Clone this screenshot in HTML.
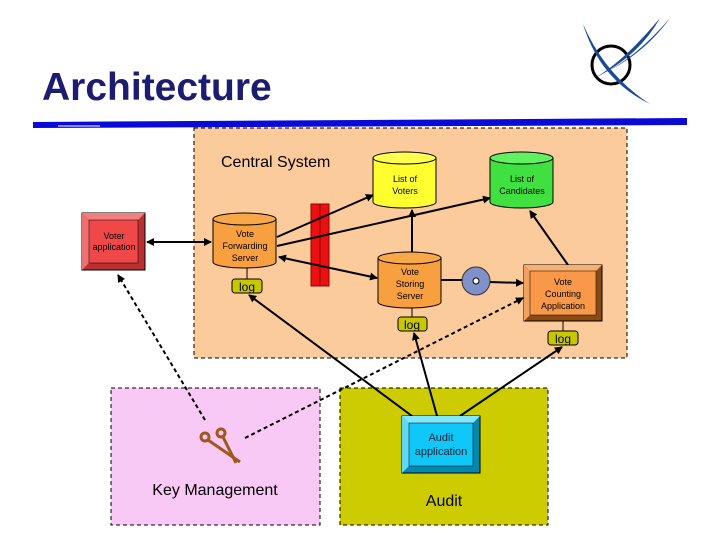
<!DOCTYPE html>
<html><head><style>
body{margin:0;background:#fff;}
svg{display:block;font-family:"Liberation Sans",sans-serif;}
</style></head><body>
<svg width="720" height="540" viewBox="0 0 720 540" xmlns="http://www.w3.org/2000/svg">
<defs>
<marker id="ah" markerWidth="8" markerHeight="8" refX="7" refY="4" orient="auto" markerUnits="userSpaceOnUse"><path d="M0,0 L8,4 L0,8 z" fill="#000"/></marker>
<marker id="as" markerWidth="8" markerHeight="8" refX="1" refY="4" orient="auto" markerUnits="userSpaceOnUse"><path d="M8,0 L0,4 L8,8 z" fill="#000"/></marker>
</defs>
<circle cx="611" cy="65" r="19" fill="none" stroke="#000" stroke-width="3"/>
<path d="M583,24 Q600,80 650,104 Q605,75 583,24z" fill="#1a4a9a"/>
<path d="M588,80 Q640,60 670,18 Q630,65 588,80z" fill="#1a4a9a"/>
<path d="M595,78 Q640,55 660,18 Q625,60 595,78z" fill="#1a4a9a"/>
<text x="42" y="100" font-size="39" font-weight="bold" fill="#1c1c70">Architecture</text>
<polygon points="33,122 687,118 687,125 33,128" fill="#0a0ad8"/>
<line x1="58" y1="126" x2="100" y2="126" stroke="#fff" stroke-width="1"/>
<rect x="194" y="128" width="433" height="230" fill="#fccb9b" stroke="#000" stroke-dasharray="4,3"/>
<text x="221" y="167" font-size="16">Central System</text>
<rect x="111" y="388" width="209" height="137" fill="#f9c9f5" stroke="#000" stroke-dasharray="4,3"/>
<rect x="340" y="388" width="208" height="137" fill="#cccc00" stroke="#000" stroke-dasharray="4,3"/>
<text x="215" y="495" font-size="16" text-anchor="middle">Key Management</text>
<text x="444" y="506" font-size="16" text-anchor="middle">Audit</text>
<rect x="311" y="204" width="18" height="82" fill="#e81010" stroke="#900"/>
<line x1="320" y1="204" x2="320" y2="286" stroke="#900"/>
<g stroke="#000" stroke-width="2" fill="none">
<line x1="147" y1="242" x2="211" y2="242" marker-end="url(#ah)" marker-start="url(#as)"/>
<line x1="277" y1="237" x2="373" y2="195" marker-end="url(#ah)"/>
<line x1="277" y1="246" x2="490" y2="198" marker-end="url(#ah)"/>
<line x1="279" y1="257" x2="377" y2="278" marker-end="url(#ah)" marker-start="url(#as)"/>
<line x1="412" y1="252" x2="412" y2="210" marker-end="url(#ah)"/>
<line x1="441" y1="280" x2="462" y2="280"/>
<line x1="489" y1="282" x2="523" y2="283" marker-end="url(#ah)"/>
<line x1="568" y1="265" x2="530" y2="211" marker-end="url(#ah)"/>
<line x1="412" y1="416" x2="249" y2="295" marker-end="url(#ah)"/>
<line x1="437" y1="416" x2="414" y2="333" marker-end="url(#ah)"/>
<line x1="460" y1="416" x2="562" y2="347" marker-end="url(#ah)"/>
<line x1="245" y1="438" x2="523" y2="298" stroke-dasharray="4,3" marker-end="url(#ah)"/>
<line x1="205" y1="420" x2="118" y2="275" stroke-dasharray="4,3" marker-end="url(#ah)"/>
<line x1="247" y1="268" x2="247" y2="279" stroke-width="1"/>
<line x1="412" y1="308" x2="412" y2="317" stroke-width="1"/>
<line x1="563" y1="321" x2="563" y2="331" stroke-width="1"/>
</g>
<rect x="82" y="213" width="63" height="57" fill="#b83030" stroke="#000"/>
<polygon points="82,213 145,213 138,220 89,220" fill="#f08080"/>
<polygon points="82,213 89,220 89,263 82,270" fill="#f07070"/>
<rect x="89" y="220" width="49" height="43" fill="#f04848" stroke="#000" stroke-width="0.5"/>
<text font-size="9" text-anchor="middle"><tspan x="114" y="239">Voter</tspan><tspan x="114" y="250">application</tspan></text>
<g stroke="#000" stroke-width="1">
<path d="M213,219 v43 a31.5,6 0 0 0 63,0 v-43" fill="#f8a040"/><ellipse cx="244.5" cy="219" rx="31.5" ry="6" fill="#f8a848"/>
<path d="M373,158 v44 a31.5,6 0 0 0 63,0 v-44" fill="#ffff30"/><ellipse cx="404.5" cy="158" rx="31.5" ry="6" fill="#ffff50"/>
<path d="M490,158 v44 a31.5,6 0 0 0 63,0 v-44" fill="#40e040"/><ellipse cx="521.5" cy="158" rx="31.5" ry="6" fill="#60f060"/>
<path d="M378,258 v44 a31.5,6 0 0 0 63,0 v-44" fill="#f8a040"/><ellipse cx="409.5" cy="258" rx="31.5" ry="6" fill="#f8a848"/>
</g>
<g font-size="9" text-anchor="middle">
<text><tspan x="245" y="237">Vote</tspan><tspan x="245" y="249">Forwarding</tspan><tspan x="245" y="261">Server</tspan></text>
<text><tspan x="405" y="182">List of</tspan><tspan x="405" y="194">Voters</tspan></text>
<text><tspan x="522" y="182">List of</tspan><tspan x="522" y="194">Candidates</tspan></text>
<text><tspan x="410" y="275">Vote</tspan><tspan x="410" y="287">Storing</tspan><tspan x="410" y="299">Server</tspan></text>
</g>
<circle cx="476" cy="281" r="14" fill="#8090c8" stroke="#333"/>
<circle cx="476" cy="281" r="3" fill="#fff" stroke="#000"/>
<rect x="524" y="265" width="78" height="56" fill="#8a4a10" stroke="#000"/>
<polygon points="524,265 602,265 596,271 530,271" fill="#f8b070"/>
<polygon points="524,265 530,271 530,315 524,321" fill="#f0a060"/>
<rect x="530" y="271" width="66" height="44" fill="#f89848" stroke="#000" stroke-width="0.5"/>
<text font-size="9" text-anchor="middle"><tspan x="563" y="285">Vote</tspan><tspan x="563" y="297">Counting</tspan><tspan x="563" y="309">Application</tspan></text>
<rect x="402" y="416" width="78" height="57" fill="#0088b0" stroke="#000"/>
<polygon points="402,416 480,416 473,423 409,423" fill="#80e8ff"/>
<polygon points="402,416 409,423 409,466 402,473" fill="#60d8f8"/>
<rect x="409" y="423" width="64" height="43" fill="#10c8f8" stroke="#000" stroke-width="0.5"/>
<text font-size="11" text-anchor="middle" fill="#223"><tspan x="441" y="441">Audit</tspan><tspan x="441" y="455">application</tspan></text>
<g fill="#c8c800" stroke="#000">
<rect x="232" y="279" width="30" height="14" rx="3"/>
<rect x="398" y="317" width="29" height="14" rx="3"/>
<rect x="548" y="331" width="30" height="14" rx="3"/>
</g>
<g font-size="12" text-anchor="middle">
<text x="247" y="291">log</text><text x="412" y="329">log</text><text x="563" y="343">log</text>
</g>
<g stroke="#a0581a" stroke-width="3" fill="none">
<circle cx="205" cy="437" r="4"/><line x1="208" y1="440" x2="240" y2="462"/>
<circle cx="221" cy="433" r="4"/><line x1="223" y1="437" x2="236" y2="463"/>
</g>
</svg>
</body></html>
